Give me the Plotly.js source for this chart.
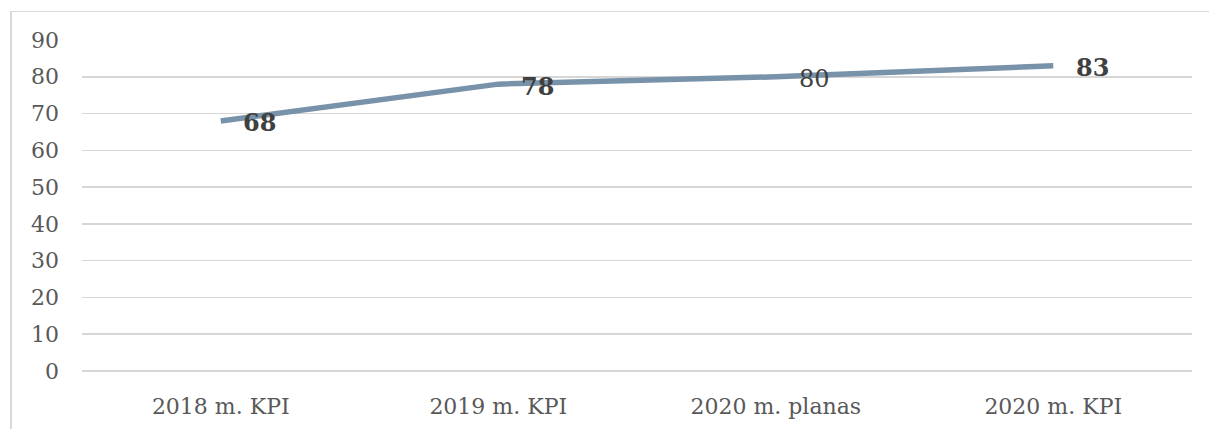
<!DOCTYPE html>
<html>
<head>
<meta charset="utf-8">
<script src="https://cdn.plot.ly/plotly-3.0.1.min.js"></script>
<style>
html,body{margin:0;padding:0;background:#fff;}
#wrap{position:relative;width:1209px;height:429px;}
#chart{position:absolute;left:0;top:0;width:1209px;height:429px;}
#frame{position:absolute;left:10px;top:11px;width:1199px;height:418px;border-top:1px solid #d9d9d9;border-left:2px solid #d9d9d9;box-sizing:border-box;pointer-events:none;}
</style>
</head>
<body>
<div id="wrap"><div id="chart"></div><div id="frame"></div></div>
<script>
var categories = ["2018 m. KPI", "2019 m. KPI", "2020 m. planas", "2020 m. KPI"];
var values = [68, 78, 80, 83];
var labelBold = [true, true, false, true];
var yTicks = [0, 10, 20, 30, 40, 50, 60, 70, 80, 90];

var FONT = "DejaVu Serif, Liberation Serif, serif";

var trace = {
  x: categories,
  y: values,
  type: "scatter",
  mode: "lines",
  line: {color: "#7892aa", width: 5.5},
  hoverinfo: "none"
};

var annotations = values.map(function (v, i) {
  return {
    x: categories[i],
    y: v,
    xref: "x",
    yref: "y",
    text: labelBold[i] ? "<b>" + v + "</b>" : String(v),
    showarrow: false,
    xanchor: "center",
    yanchor: "middle",
    xshift: 39,
    yshift: -2,
    font: {family: FONT, size: 24, color: "#404040"}
  };
});

var layout = {
  width: 1209,
  height: 429,
  margin: {l: 82, r: 17, t: 40, b: 58},
  paper_bgcolor: "#ffffff",
  plot_bgcolor: "#ffffff",
  showlegend: false,
  xaxis: {
    type: "category",
    range: [-0.5, 3.5],
    showgrid: false,
    zeroline: false,
    showline: false,
    ticks: "",
    ticklabelstandoff: 20,
    tickfont: {family: FONT, size: 22, color: "#595959"}
  },
  yaxis: {
    range: [0, 90],
    tickvals: yTicks,
    ticktext: yTicks.map(String),
    showgrid: true,
    gridcolor: "#d6d6d6",
    gridwidth: 1.5,
    zeroline: true,
    zerolinecolor: "#d6d6d6",
    zerolinewidth: 1.5,
    showline: false,
    ticks: "",
    ticklabelstandoff: 22,
    tickfont: {family: FONT, size: 22, color: "#595959"}
  },
  annotations: annotations
};

Plotly.newPlot("chart", [trace], layout, {displayModeBar: false, staticPlot: true});
</script>
</body>
</html>
